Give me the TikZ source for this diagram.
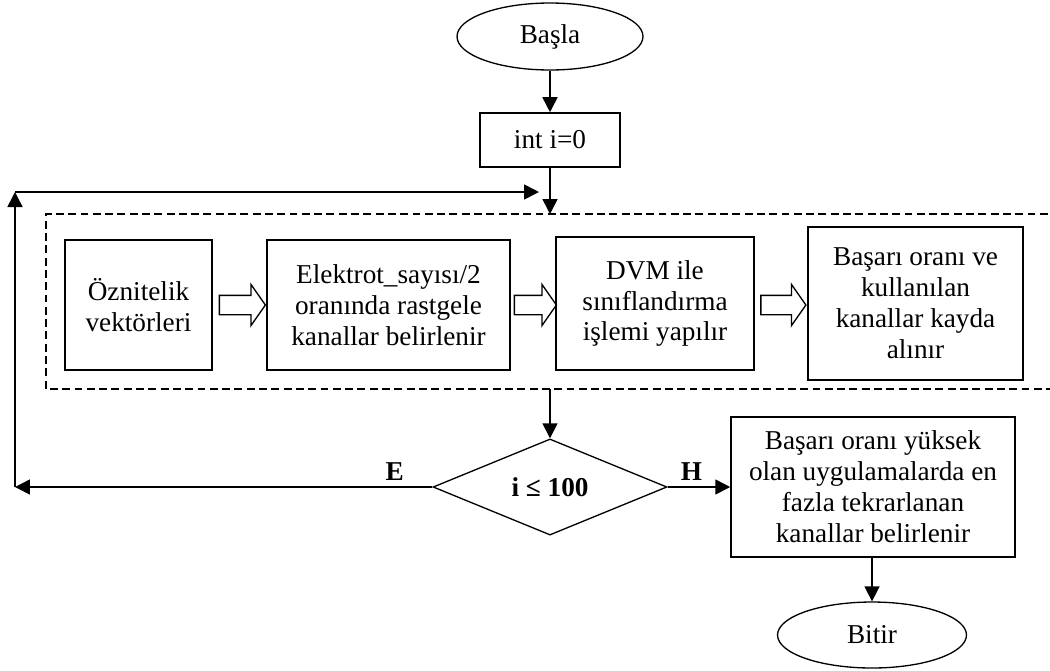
\documentclass[tikz,border=0pt]{standalone}
\usepackage{fontspec}
\setmainfont{Liberation Serif}
\usetikzlibrary{shapes.geometric,shapes.arrows,arrows.meta}

\newcommand{\yazi}{\fontsize{15.5}{17.6}\selectfont}

\tikzstyle{uc} = [draw, ellipse, line width=0.75pt, inner sep=0pt]
\tikzstyle{kutu} = [draw, rectangle, line width=0.9pt, align=center,
  inner sep=0.1cm]
\tikzstyle{karar} = [draw, diamond, line width=0.75pt, inner sep=0pt,
  font=\yazi\bfseries]
\tikzstyle{ok} = [-{Triangle[length=0.3cm,width=0.3cm]}, line width=0.9pt]
\tikzstyle{blok} = [draw, single arrow, line width=0.75pt, minimum
  width=0.8cm, inner sep=0.18cm, single arrow head extend=0.22cm,
  single arrow tip angle=110]
\tikzstyle{etiket} = [above, font=\yazi\bfseries]

\begin{document}
\begin{tikzpicture}[x=0.02cm, y=-0.02cm, font=\yazi]
        \clip (0,0) rectangle (1050,670);

        \node [uc, minimum width=3.72cm, minimum height=1.34cm]
          (basla) at (550,36.5) {Başla};
        \node [kutu, minimum width=2.8cm, minimum height=1.08cm]
          (init)  at (550,140) {int i=0};

        \draw [dash pattern=on 4.5pt off 2.5pt, line width=0.9pt]
          (1060,214) -- (46,214) -- (46,389) -- (1060,389);
        \coordinate (dustu) at (550,214);
        \coordinate (dalti) at (550,389);

        \node [kutu, minimum width=2.94cm, minimum height=2.6cm]
          (oz)    at (138.5,305) {Öznitelik\\vektörleri};
        \node [kutu, minimum width=4.86cm, minimum height=2.6cm]
          (elek)  at (388.5,305) {Elektrot\_sayısı/2\\oranında rastgele\\kanallar belirlenir};
        \node [kutu, minimum width=3.96cm, minimum height=2.66cm]
          (dvm)   at (655,303.5) {DVM ile\\sınıflandırma\\işlemi yapılır};
        \node [kutu, minimum width=4.3cm, minimum height=3.06cm]
          (kayit) at (915.5,303.5) {Başarı oranı ve\\kullanılan\\kanallar kayda\\alınır};

        \node [blok, minimum height=0.92cm] (blok1) at (239,305) {};
        \node [blok, minimum height=0.84cm] (blok2) at (532,305) {};
        \node [blok, minimum height=0.9cm]  (blok3) at (780,305) {};

        \node [karar, minimum width=4.68cm, minimum height=1.8cm]
          (kosul) at (550,487) {i ≤ 100};
        \node [kutu, minimum width=5.68cm, minimum height=2.8cm]
          (sonuc) at (873,487) {Başarı oranı yüksek\\olan uygulamalarda en\\fazla tekrarlanan\\kanallar belirlenir};
        \node [uc, minimum width=3.78cm, minimum height=1.32cm]
          (bitir) at (872,635) {Bitir};

        \coordinate (sol)   at (15,487);
        \coordinate (ust)   at (15,192);
        \coordinate (giris) at (539,192);

        \draw [ok] (basla.south) -- (init.north);
        \draw [ok] (init.south) -- (dustu);
        \draw [ok] (dalti) -- (kosul.north);
        \draw [ok] (kosul.west) -- node [etiket, pos=0.09] {E} (sol);
        \draw [ok] (sol) -- (ust);
        \draw [ok] (ust) -- (giris);
        \draw [ok] (kosul.east) -- node [etiket, pos=0.38] {H} (sonuc.west);
        \draw [ok] (sonuc.south -| bitir.north) -- (bitir.north);
      \end{tikzpicture}
\end{document}
